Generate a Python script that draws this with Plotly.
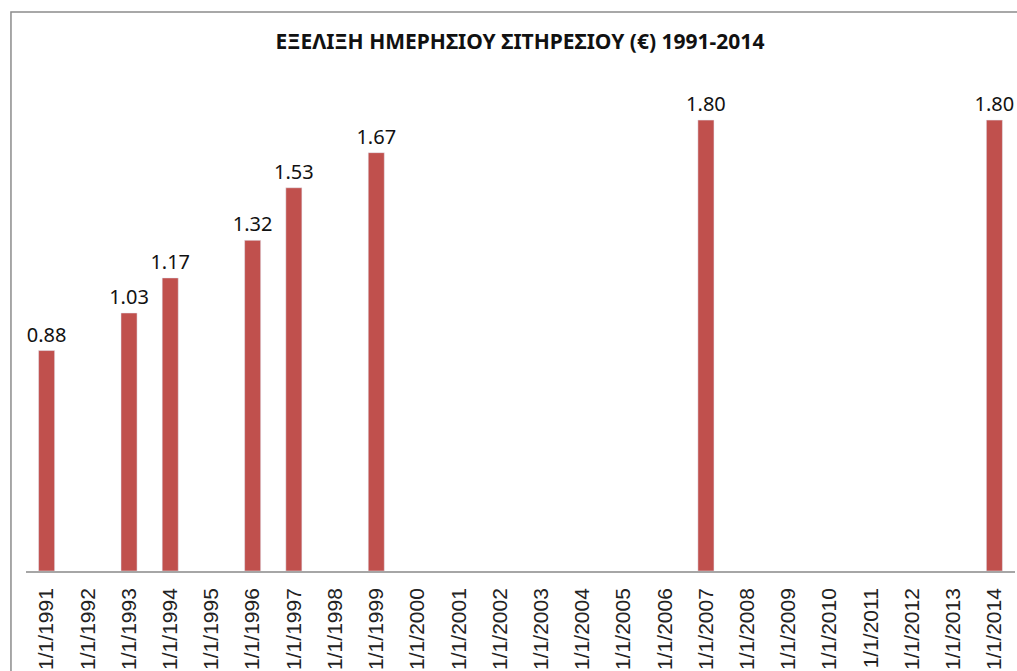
import plotly.graph_objects as go

# ── data ─────────────────────────────────────────────
YEARS = list(range(1991, 2015))
DATES = [f"1/1/{y}" for y in YEARS]
VALUES = [0.88, None, 1.03, 1.17, None, 1.32, 1.53, None, 1.67,
          None, None, None, None, None, None, None, 1.80,
          None, None, None, None, None, None, 1.80]
LABELS = [f"{v:.2f}" if v is not None else "" for v in VALUES]

TITLE = "ΕΞΕΛΙΞΗ ΗΜΕΡΗΣΙΟΥ ΣΙΤΗΡΕΣΙΟΥ (€) 1991-2014"
BAR = "#c0504d"

fig = go.Figure(go.Bar(
    x=DATES, y=VALUES,
    text=LABELS, textposition="outside", constraintext="none",
    textfont=dict(family="Noto Sans", size=20, color="#111"),
    marker_color=BAR, cliponaxis=False,
))

fig.update_layout(
    width=1017, height=671,
    paper_bgcolor="white", plot_bgcolor="white",
    margin=dict(l=26, r=2, t=70, b=100, autoexpand=False),
    bargap=0.61,
    showlegend=False,
    title=dict(text=f"<b>{TITLE}</b>", xref="paper", x=0.4995,
               xanchor="center", y=0.9374, yanchor="middle",
               font=dict(family="Noto Sans", size=21, color="#111")),
    xaxis=dict(type="category", tickangle=-90, showline=True,
               linecolor="#a6a6a6", linewidth=1.5, showgrid=False,
               ticks="", ticklabelstandoff=7, automargin=False,
               tickfont=dict(family="Liberation Sans", size=21, color="#222")),
    yaxis=dict(visible=False, range=[0, 2.0]),
    shapes=[dict(type="rect", xref="paper", yref="paper",
                 x0=-0.0152, x1=1.05, y0=-0.4, y1=1.1158,
                 line=dict(color="#8c8c8c", width=1.5))],
)

# drop the default 8px page margin so the figure fills the window
fig.write_html("out.html", config={"displayModeBar": False},
               post_script="document.body.style.margin='0';"
                           "document.body.style.overflow='hidden';")
